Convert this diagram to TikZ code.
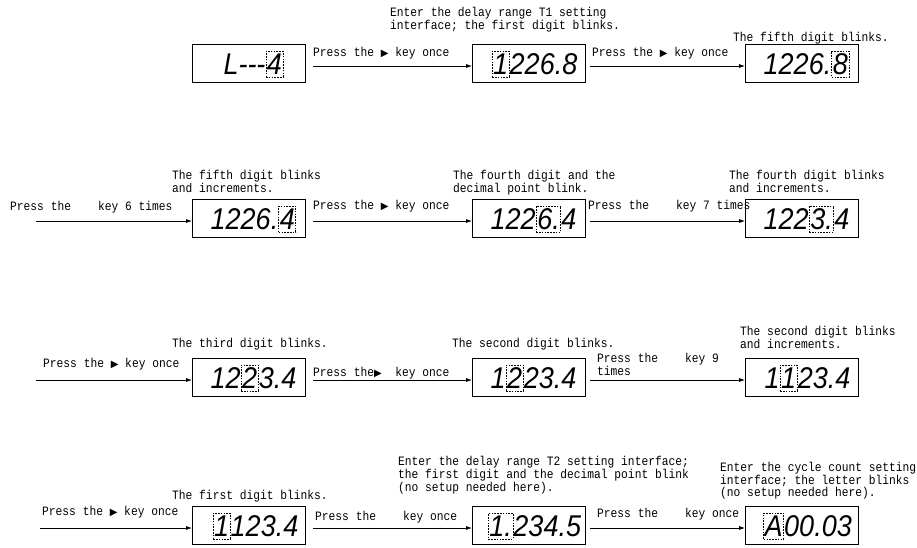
\documentclass[tikz,border=0pt]{standalone}
\usepackage{fontspec}
\setmonofont[FakeStretch=0.88]{Liberation Mono}
\newfontfamily\symf{DejaVu Sans}
\newfontfamily\dispfont[FakeStretch=0.9]{Liberation Sans}
\usetikzlibrary{arrows.meta}
\newcommand\tri{{\symf\fontsize{10}{10}\selectfont ▶}}
\tikzset{
  disp/.style={draw, line width=0.8pt, minimum width=113pt, minimum height=38pt, inner sep=0pt},
  dtext/.style={font=\dispfont\itshape\fontsize{30}{30}\selectfont, inner sep=0pt},
  blinkbox/.style={dtext, draw, line width=0.6pt, dash pattern=on 1.6pt off 1.2pt, inner xsep=1pt, inner ysep=2.5pt},
  lbl/.style={font=\ttfamily\fontsize{12.8}{12}\selectfont, inner sep=0pt, anchor=base west},
  ttl/.style={font=\ttfamily\fontsize{12.8}{11.5}\selectfont, inner sep=0pt, anchor=north west, align=left},
  arr/.style={line width=0.8pt, -{Latex[length=6pt,width=4pt]}},
}
\newcommand\display[6]{%
  \node[disp] (#1) at (#2,#3) {};
  \node[dtext] (#1h) at ([xshift=3pt,yshift=-1pt]#1.center) {\phantom{#4#5#6}};
  \node[dtext, anchor=base west] (#1a) at (#1h.base west) {#4};
  \node[blinkbox, anchor=base west] (#1b) at (#1a.base east) {#5};
  \node[dtext, anchor=base west] (#1c) at (#1b.base east) {#6};
}
\begin{document}
\begin{tikzpicture}[x=1pt, y=-1pt]
\useasboundingbox (0,0) rectangle (917,547);
% ---------- row 1 ----------
\display{b1}{249}{63}{L---}{4}{}
\display{b2}{529}{63}{}{1}{226.8}
\display{b3}{802}{63}{1226.}{8}{}
\node[ttl] (t1) at (390,7) {Enter the delay range T1 setting\\interface; the first digit blinks.};
\node[lbl] (t3) at (733,41) {The fifth digit blinks.};
\draw[arr] ([xshift=7pt,yshift=-3pt]b1.east) -- ([yshift=-3pt]b2.west);
\draw[arr] ([xshift=4pt,yshift=-3pt]b2.east) -- ([yshift=-3pt]b3.west);
\node[lbl] (l12) at (313,56) {Press the \tri~key once};
\node[lbl] (l23) at (592,56) {Press the \tri~key once};
% ---------- row 2 ----------
\display{b4}{249}{218}{1226.}{4}{}
\display{b5}{529}{218}{122}{6.}{4}
\display{b6}{802}{218}{122}{3.}{4}
\node[ttl] (t4) at (172,170) {The fifth digit blinks\\and increments.};
\node[ttl] (t5) at (453,170) {The fourth digit and the\\decimal point blink.};
\node[ttl] (t6) at (729,170) {The fourth digit blinks\\and increments.};
\coordinate (s2) at (36,221);
\draw[arr] (s2) -- (s2 -| b4.west);
\draw[arr] ([xshift=7pt,yshift=-3pt]b4.east) -- ([yshift=-3pt]b5.west);
\draw[arr] ([xshift=4pt,yshift=-3pt]b5.east) -- ([yshift=-3pt]b6.west);
\node[lbl] (l4) at (10,210) {Press the~~~~key 6 times};
\node[lbl] (l45) at (313,209) {Press the \tri~key once};
\node[lbl] (l56) at (588,209) {Press the~~~~key 7 times};
% ---------- row 3 ----------
\display{b7}{249}{377}{12}{2}{3.4}
\display{b8}{529}{377}{1}{2}{23.4}
\display{b9}{802}{377}{1}{1}{23.4}
\node[lbl] (t7) at (172,347) {The third digit blinks.};
\node[lbl] (t8) at (452,347) {The second digit blinks.};
\node[ttl] (t9) at (740,326) {The second digit blinks\\and increments.};
\coordinate (s3) at (36,380);
\draw[arr] (s3) -- (s3 -| b7.west);
\draw[arr] ([xshift=7pt,yshift=-3pt]b7.east) -- ([yshift=-3pt]b8.west);
\draw[arr] ([xshift=4pt,yshift=-3pt]b8.east) -- ([yshift=-3pt]b9.west);
\node[lbl] (l7) at (43,367) {Press the \tri~key once};
\node[lbl] (l78) at (313,376) {Press the\tri~~key once};
\node[lbl] (l89a) at (597,362) {Press the~~~~key 9};
\node[lbl] (l89b) at (597,375) {times};
% ---------- row 4 ----------
\display{b10}{249}{525}{}{1}{123.4}
\display{b11}{529}{525}{}{1.}{234.5}
\display{b12}{802}{525}{}{A}{00.03}
\node[ttl] (t11) at (398,456) {Enter the delay range T2 setting interface;\\the first digit and the decimal point blink\\(no setup needed here).};
\node[lbl] (t10) at (172,499) {The first digit blinks.};
\node[ttl] (t12) at (720,462) {Enter the cycle count setting\\interface; the letter blinks\\(no setup needed here).};
\coordinate (s4) at (40,528);
\draw[arr] (s4) -- (s4 -| b10.west);
\draw[arr] ([xshift=7pt,yshift=-3pt]b10.east) -- ([yshift=-3pt]b11.west);
\draw[arr] ([xshift=4pt,yshift=-3pt]b11.east) -- ([yshift=-3pt]b12.west);
\node[lbl] (l10) at (42,515) {Press the \tri~key once};
\node[lbl] (l1011) at (315,520) {Press the~~~~key once};
\node[lbl] (l1112) at (597,517) {Press the~~~~key once};
\end{tikzpicture}
\end{document}
